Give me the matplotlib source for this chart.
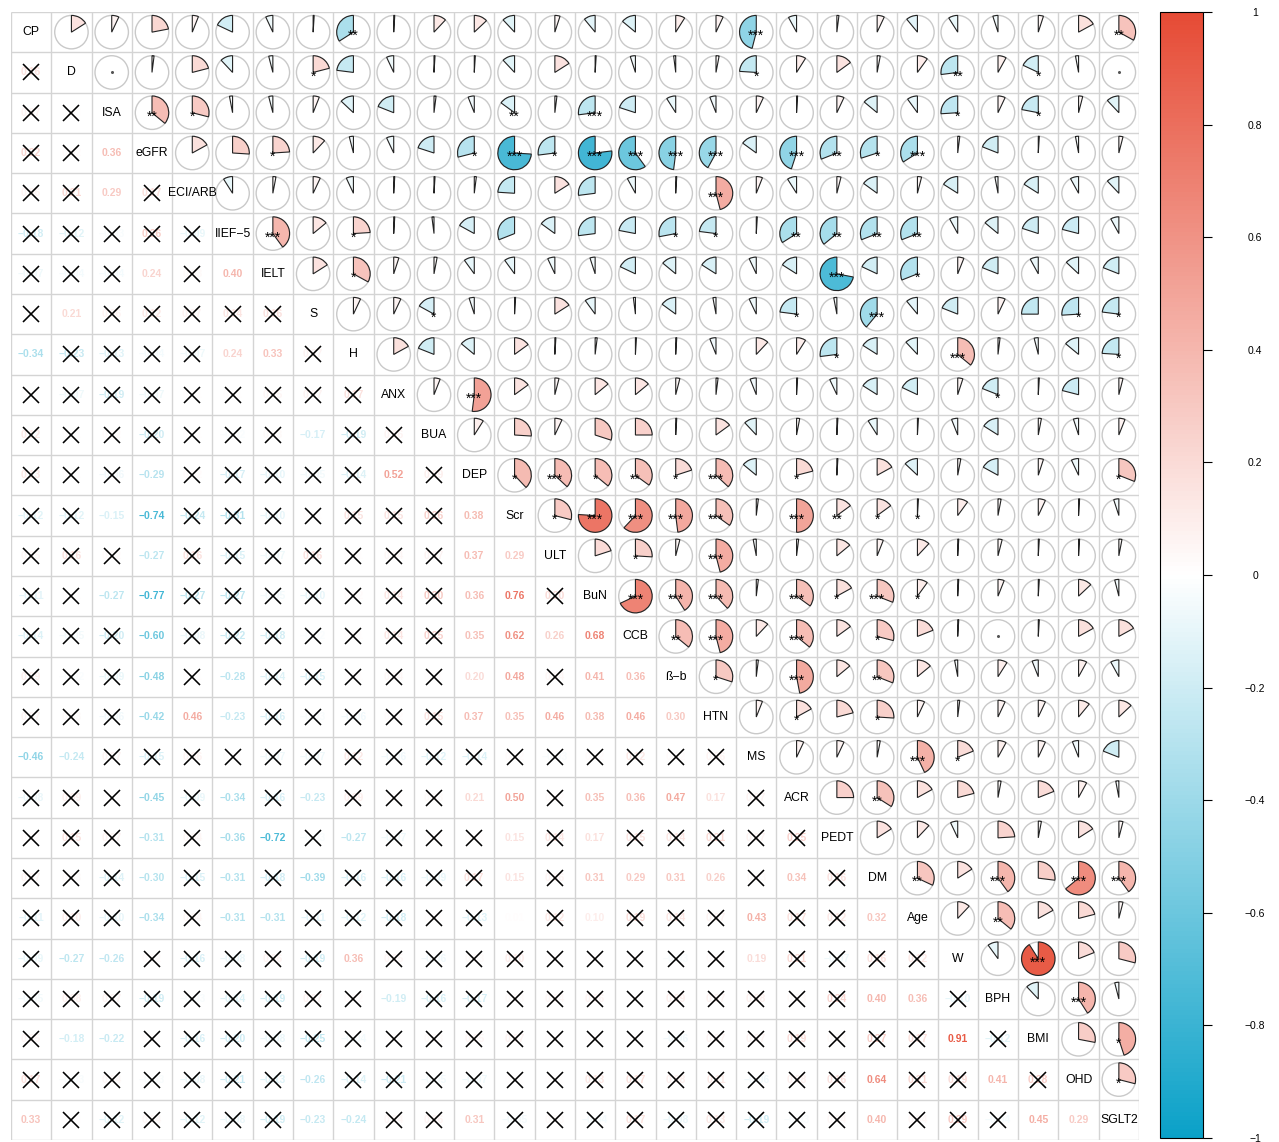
import numpy as np
import matplotlib
matplotlib.use("Agg")
import matplotlib.pyplot as plt
from matplotlib.patches import Wedge, Circle
from matplotlib.colors import LinearSegmentedColormap, Normalize
from matplotlib.ticker import FuncFormatter

MINUS = "\u2212"

labels = ["CP", "D", "ISA", "eGFR", "ECI/ARB", "IIEF" + MINUS + "5", "IELT", "S", "H",
          "ANX", "BUA", "DEP", "Scr", "ULT", "BuN", "CCB", "\u00df" + MINUS + "b", "HTN",
          "MS", "ACR", "PEDT", "DM", "Age", "W", "BPH", "BMI", "OHD", "SGLT2"]

# Upper-triangle correlations: row i holds r(i, j) for j = i+1 .. n-1
corr_upper = [
    [0.16, 0.07, 0.22, 0.06, -0.18, -0.07, 0.01, -0.34, 0.01, 0.12, 0.13, -0.12, 0.05, -0.11,
     -0.14, 0.09, 0.07, -0.46, -0.08, 0.02, 0.07, -0.11, -0.09, -0.05, 0.05, 0.17, 0.33],
    [0.00, 0.02, 0.21, -0.12, -0.04, 0.21, -0.23, -0.07, 0.01, 0.01, -0.12, 0.16, 0.01, -0.05,
     -0.02, 0.03, -0.24, 0.09, 0.15, 0.03, 0.10, -0.27, 0.08, -0.18, -0.03, 0.00],
    [0.36, 0.29, -0.03, -0.04, 0.06, -0.13, -0.19, 0.02, -0.06, -0.15, 0.02, -0.27, -0.20,
     -0.09, -0.06, 0.07, 0.01, 0.07, -0.14, -0.10, -0.26, 0.07, -0.22, 0.04, -0.12],
    [0.17, 0.26, 0.24, 0.12, -0.04, -0.07, -0.20, -0.29, -0.74, -0.27, -0.77, -0.60, -0.48,
     -0.42, -0.15, -0.45, -0.31, -0.30, -0.34, 0.02, -0.19, 0.01, -0.03, 0.04],
    [-0.09, 0.03, 0.07, -0.07, 0.01, 0.01, 0.02, -0.24, 0.16, -0.27, -0.08, 0.01, 0.46, 0.06,
     -0.09, 0.04, -0.15, 0.04, -0.16, -0.03, -0.16, -0.08, -0.12],
    [0.40, 0.14, 0.24, 0.01, -0.02, -0.17, -0.31, -0.15, -0.27, -0.22, -0.28, -0.23, 0.01,
     -0.34, -0.36, -0.31, -0.31, -0.08, -0.14, -0.20, -0.21, -0.08],
    [0.16, 0.33, 0.05, 0.03, -0.10, -0.10, -0.07, -0.05, -0.18, -0.14, -0.16, -0.07, -0.16,
     -0.72, -0.18, -0.31, 0.06, -0.19, -0.08, -0.13, -0.19],
    [0.07, 0.07, -0.17, -0.05, 0.01, 0.16, -0.10, -0.02, -0.15, -0.03, -0.07, -0.23, -0.03,
     -0.39, -0.11, -0.19, 0.07, -0.25, -0.26, -0.23],
    [0.17, -0.19, -0.14, 0.15, 0.01, 0.02, 0.01, 0.01, -0.06, 0.12, 0.09, -0.27, -0.16, -0.12,
     0.36, 0.02, -0.04, -0.14, -0.24],
    [0.06, 0.52, 0.15, 0.04, 0.14, 0.14, 0.04, 0.02, -0.06, 0.01, -0.07, -0.16, -0.18, 0.05,
     -0.19, 0.01, -0.21, 0.04],
    [0.09, 0.26, 0.07, 0.30, 0.25, 0.01, 0.15, -0.12, 0.03, 0.01, -0.09, 0.01, -0.06, -0.16,
     0.03, -0.05, 0.06],
    [0.38, 0.37, 0.36, 0.35, 0.20, 0.37, -0.14, 0.21, 0.01, 0.17, -0.13, 0.03, -0.17, 0.05,
     -0.07, 0.31],
    [0.29, 0.76, 0.62, 0.48, 0.35, 0.02, 0.50, 0.15, 0.15, 0.01, 0.10, 0.03, 0.07, 0.01, -0.05],
    [0.20, 0.26, 0.04, 0.46, -0.03, 0.02, 0.14, 0.06, 0.12, 0.01, 0.04, 0.01, 0.01, 0.03],
    [0.68, 0.41, 0.38, 0.02, 0.35, 0.17, 0.31, 0.10, 0.01, 0.06, 0.01, 0.13, -0.04],
    [0.36, 0.46, 0.12, 0.36, 0.15, 0.29, 0.19, 0.01, 0.00, 0.01, 0.17, 0.17],
    [0.30, 0.02, 0.47, 0.14, 0.31, 0.14, -0.03, 0.09, -0.06, 0.08, -0.08],
    [0.06, 0.17, 0.21, 0.26, 0.07, 0.02, 0.07, 0.07, 0.11, 0.13],
    [0.07, 0.07, 0.03, 0.43, 0.19, 0.08, 0.07, -0.06, -0.19],
    [0.25, 0.34, 0.17, 0.21, 0.03, 0.19, 0.08, -0.03],
    [0.16, 0.12, -0.07, 0.24, 0.03, 0.16, 0.04],
    [0.32, 0.16, 0.40, 0.27, 0.64, 0.40],
    [0.12, 0.36, 0.17, 0.21, 0.04],
    [-0.10, 0.91, 0.19, 0.29],
    [-0.12, 0.41, -0.04],
    [0.28, 0.45],
    [0.29],
]

# Significance level of each tested pair: 1 = *, 2 = **, 3 = ***
sig_pairs = {
    ("CP", "H"): 2, ("CP", "MS"): 3, ("CP", "SGLT2"): 2,
    ("D", "S"): 1, ("D", "MS"): 1, ("D", "W"): 2, ("D", "BMI"): 1,
    ("ISA", "eGFR"): 2, ("ISA", "ECI/ARB"): 1, ("ISA", "Scr"): 2, ("ISA", "BuN"): 3,
    ("ISA", "W"): 1, ("ISA", "BMI"): 1,
    ("eGFR", "IELT"): 1, ("eGFR", "DEP"): 1, ("eGFR", "Scr"): 3, ("eGFR", "ULT"): 1,
    ("eGFR", "BuN"): 3, ("eGFR", "CCB"): 3, ("eGFR", "\u00df" + MINUS + "b"): 3,
    ("eGFR", "HTN"): 3, ("eGFR", "ACR"): 3, ("eGFR", "PEDT"): 2, ("eGFR", "DM"): 1,
    ("eGFR", "Age"): 3,
    ("ECI/ARB", "HTN"): 3,
    ("IIEF" + MINUS + "5", "IELT"): 3, ("IIEF" + MINUS + "5", "H"): 1,
    ("IIEF" + MINUS + "5", "\u00df" + MINUS + "b"): 1, ("IIEF" + MINUS + "5", "HTN"): 1,
    ("IIEF" + MINUS + "5", "ACR"): 2, ("IIEF" + MINUS + "5", "PEDT"): 2,
    ("IIEF" + MINUS + "5", "DM"): 2, ("IIEF" + MINUS + "5", "Age"): 2,
    ("IELT", "H"): 1, ("IELT", "PEDT"): 3, ("IELT", "Age"): 1,
    ("S", "BUA"): 1, ("S", "ACR"): 1, ("S", "DM"): 3, ("S", "OHD"): 1, ("S", "SGLT2"): 1,
    ("H", "PEDT"): 1, ("H", "W"): 3, ("H", "SGLT2"): 1,
    ("ANX", "DEP"): 3, ("ANX", "BPH"): 1,
    ("DEP", "Scr"): 1, ("DEP", "ULT"): 3, ("DEP", "BuN"): 1, ("DEP", "CCB"): 2,
    ("DEP", "\u00df" + MINUS + "b"): 1, ("DEP", "HTN"): 3, ("DEP", "ACR"): 1, ("DEP", "SGLT2"): 1,
    ("Scr", "ULT"): 1, ("Scr", "BuN"): 3, ("Scr", "CCB"): 3, ("Scr", "\u00df" + MINUS + "b"): 3,
    ("Scr", "HTN"): 3, ("Scr", "ACR"): 3, ("Scr", "PEDT"): 2, ("Scr", "DM"): 1, ("Scr", "Age"): 1,
    ("ULT", "CCB"): 1, ("ULT", "HTN"): 3,
    ("BuN", "CCB"): 3, ("BuN", "\u00df" + MINUS + "b"): 3, ("BuN", "HTN"): 3, ("BuN", "ACR"): 3,
    ("BuN", "PEDT"): 1, ("BuN", "DM"): 3, ("BuN", "Age"): 1,
    ("CCB", "\u00df" + MINUS + "b"): 2, ("CCB", "HTN"): 3, ("CCB", "ACR"): 3, ("CCB", "DM"): 1,
    ("\u00df" + MINUS + "b", "HTN"): 1, ("\u00df" + MINUS + "b", "ACR"): 3,
    ("\u00df" + MINUS + "b", "DM"): 2,
    ("HTN", "ACR"): 1, ("HTN", "DM"): 1,
    ("MS", "Age"): 3, ("MS", "W"): 1,
    ("ACR", "DM"): 2,
    ("DM", "Age"): 2, ("DM", "BPH"): 3, ("DM", "OHD"): 3, ("DM", "SGLT2"): 3,
    ("Age", "BPH"): 2,
    ("W", "BMI"): 3,
    ("BPH", "OHD"): 3,
    ("BMI", "SGLT2"): 1,
    ("OHD", "SGLT2"): 1,
}

cbar_ticks = [-1, -0.8, -0.6, -0.4, -0.2, 0, 0.2, 0.4, 0.6, 0.8, 1]

# ---- assemble full symmetric matrices ----
n = len(labels)
R = np.eye(n)
for i, row in enumerate(corr_upper):
    for k, v in enumerate(row):
        j = i + 1 + k
        R[i, j] = R[j, i] = v
idx = {name: i for i, name in enumerate(labels)}
SIG = np.zeros((n, n), dtype=int)
for (a, b), lvl in sig_pairs.items():
    SIG[idx[a], idx[b]] = SIG[idx[b], idx[a]] = lvl

cmap = LinearSegmentedColormap.from_list("corr", ["#0AA1C8", "#FFFFFF", "#E64B35"], N=256)
norm = Normalize(vmin=-1, vmax=1)

plt.rcParams["font.family"] = ["Liberation Sans", "DejaVu Sans"]

W_PX, H_PX = 1279, 1142
fig = plt.figure(figsize=(W_PX / 100, H_PX / 100), dpi=100)
ax = fig.add_axes([11 / W_PX, 2 / H_PX, 1128 / W_PX, 1128 / H_PX])
ax.set_xlim(0, n)
ax.set_ylim(0, n)
ax.axis("off")

# cell grid
for k in range(n + 1):
    ax.plot([k, k], [0, n], color="#D4D4D4", lw=1.0, zorder=1, solid_capstyle="butt")
    ax.plot([0, n], [k, k], color="#D4D4D4", lw=1.0, zorder=1, solid_capstyle="butt")

RAD = 0.415
for i in range(n):
    for j in range(n):
        cx = j + 0.5
        cy = n - 1 - i + 0.5
        v = R[i, j]
        col = cmap(norm(v))
        if i == j:
            ax.text(cx, cy, labels[i], ha="center", va="center", fontsize=8.8,
                    color="black", zorder=5)
        elif j > i:
            ax.add_patch(Circle((cx, cy), RAD, fill=False, ec="#C9C9C9", lw=1.0, zorder=2))
            if v == 0:
                ax.plot(cx, cy, marker="o", ms=1.2, color="#555555", zorder=3)
            else:
                ang = 360 * abs(v)
                if v > 0:
                    t1, t2 = 90 - ang, 90
                else:
                    t1, t2 = 90, 90 + ang
                ax.add_patch(Wedge((cx, cy), RAD, t1, t2, fc=col, ec="#222222",
                                   lw=0.8, zorder=3))
            lvl = SIG[i, j]
            if lvl:
                ax.text(cx, cy - 0.2, "*" * lvl, ha="center", va="baseline",
                        fontsize=10, color="black", zorder=4)
        else:
            txt = f"{v:.2f}".replace("-", MINUS)
            ax.text(cx, cy, txt, ha="center", va="center", fontsize=7.5,
                    fontweight="bold", color=col, zorder=3)
            if SIG[i, j] == 0:
                ax.plot(cx, cy, marker="x", ms=12, mew=1.15, color="black", zorder=4)


def tick_label(v, pos):
    s = f"{np.round(v, 1):g}"
    if s == "-0":
        s = "0"
    return s.replace("-", MINUS)


# colour bar
cax = fig.add_axes([1160 / W_PX, 4 / H_PX, 43 / W_PX, 1126 / H_PX])
sm = plt.cm.ScalarMappable(norm=norm, cmap=cmap)
cb = fig.colorbar(sm, cax=cax, ticks=cbar_ticks)
cb.outline.set_linewidth(0.8)
cb.ax.yaxis.set_major_formatter(FuncFormatter(tick_label))
cax.tick_params(axis="y", length=6.5, width=0.8, pad=31, labelsize=7.5)
for t in cax.get_yticklabels():
    t.set_horizontalalignment("center")

fig.savefig("out.png", dpi=100)
